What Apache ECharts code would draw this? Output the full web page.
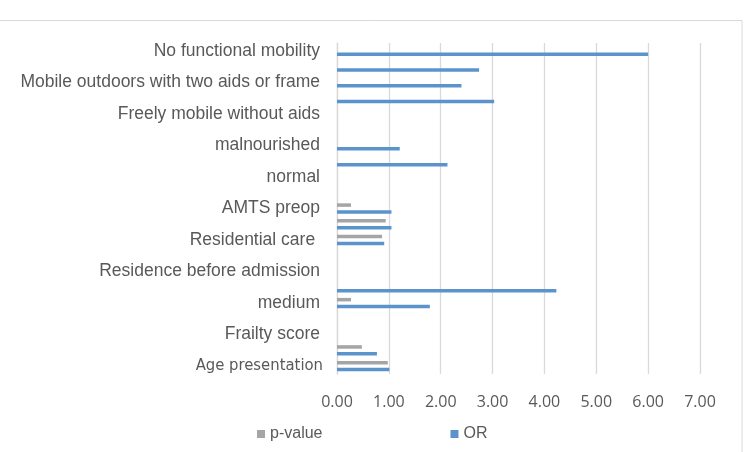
<!DOCTYPE html>
<html>
<head>
<meta charset="utf-8">
<script src="https://cdn.jsdelivr.net/npm/echarts@6/dist/echarts.min.js"></script>
<style>
  html, body { margin: 0; padding: 0; background: #fff; }
  #chart { width: 750px; height: 452px; }
</style>
</head>
<body>
<div id="chart"></div>
<script>
// categories bottom -> top (every other label is shown, as in the original)
const categories = [
  'Age presentation', 'Age > 85', 'Frailty score', 'low', 'medium', 'high',
  'Residence before admission', 'Own home', 'Residential care ', 'Nursing home',
  'AMTS preop', 'Nutrition', 'normal', 'at risk', 'malnourished', 'Mobility',
  'Freely mobile without aids', 'Mobile outdoors with one aid',
  'Mobile outdoors with two aids or frame', 'Some indoor mobility',
  'No functional mobility'
];
const pValues = [0.98, 0.48, 0, 0, 0.27, 0, 0, 0, 0.87, 0.94, 0.27, 0, 0, 0, 0, 0, 0, 0, 0, 0, 0];
const orValues = [1.01, 0.77, 0, 0, 1.79, 4.23, 0, 0, 0.91, 1.05, 1.05, 0, 0, 2.13, 1.21, 0, 0, 3.03, 2.40, 2.74, 6.00];
const xTicks = [0, 1, 2, 3, 4, 5, 6, 7];

const chart = echarts.init(document.getElementById('chart'));
chart.setOption({
  animation: false,
  color: ['#a5a5a5', '#5b93cc'],
  graphic: [{
    type: 'rect',
    shape: { x: -2, y: 20.5, width: 744, height: 440 },
    style: { fill: 'none', stroke: '#d9d9d9', lineWidth: 1 },
    silent: true
  }],
  grid: { left: 337, right: 50, top: 43, bottom: 78, containLabel: false },
  legend: {
    bottom: 5,
    left: 252,
    itemWidth: 8,
    itemHeight: 8,
    itemGap: 128,
    icon: 'rect',
    textStyle: { color: '#595959', fontSize: 16, fontFamily: 'Liberation Sans' },
    data: ['p-value', 'OR']
  },
  xAxis: {
    type: 'value',
    min: xTicks[0],
    max: xTicks[xTicks.length - 1],
    interval: 1,
    axisLine: { show: false },
    axisTick: { show: false },
    splitLine: { lineStyle: { color: '#d9d9d9', width: 1.3 } },
    axisLabel: {
      color: '#595959', fontSize: 16, fontFamily: 'Open Sans', margin: 20,
      formatter: v => v.toFixed(2)
    }
  },
  yAxis: {
    type: 'category',
    data: categories,
    axisLine: { show: true, lineStyle: { color: '#d9d9d9', width: 1.3 } },
    axisTick: { show: false },
    axisLabel: {
      interval: 1,
      color: '#595959',
      fontSize: 17.5,
      fontFamily: 'Liberation Sans',
      margin: 17,
      formatter: v => v === 'Age presentation' ? '{n|' + v + '}' : v,
      rich: {
        n: { fontFamily: 'DejaVu Sans Condensed', fontSize: 16.5, color: '#595959', padding: [0, -3, 0, 0] }
      }
    }
  },
  series: [
    { name: 'p-value', type: 'bar', data: pValues, barWidth: 3.5, barGap: '95%' },
    { name: 'OR', type: 'bar', data: orValues, barWidth: 3.5, barGap: '95%' }
  ]
});
</script>
</body>
</html>
